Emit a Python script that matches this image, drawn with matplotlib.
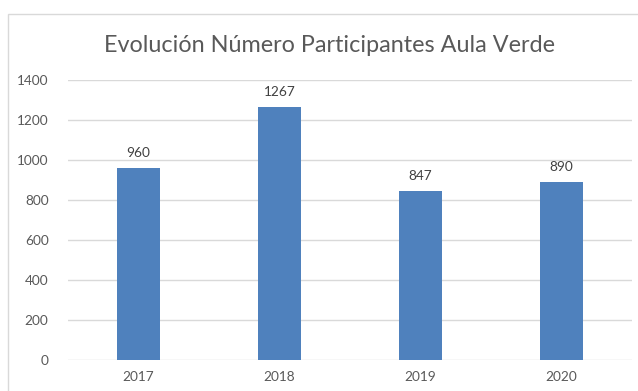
import matplotlib.pyplot as plt
from matplotlib.patches import Rectangle

years = ["2017", "2018", "2019", "2020"]
participants = [960, 1267, 847, 890]
y_ticks = [0, 200, 400, 600, 800, 1000, 1200, 1400]

W, H = 638, 391
fig = plt.figure(figsize=(W / 100, H / 100), dpi=100)
plt.rcParams["font.family"] = ["Lato", "DejaVu Sans"]

# outer chart frame, running off the right and bottom edges
fig.patches.append(Rectangle((8 / W, -0.1), 1.0, 1 - 14 / H + 0.1,
                             transform=fig.transFigure, fill=False,
                             edgecolor="#d9d9d9", linewidth=1.0))

ax = fig.add_axes([68 / W, (H - 360) / H, 564 / W, 280 / H])
x = range(len(years))
bars = ax.bar(x, participants, width=0.31, color="#4f81bd", zorder=3)

for rect, v in zip(bars, participants):
    ax.text(rect.get_x() + rect.get_width() / 2, v + 45, str(v),
            ha="center", va="bottom", fontsize=9.8, color="#404040")

ax.set_xlim(-0.5, len(years) - 0.5)
ax.set_ylim(0, 1400)
ax.set_yticks(y_ticks)
ax.set_xticks(list(x))
ax.set_xticklabels(years)
ax.grid(axis="y", color="#d9d9d9", linewidth=1.0, zorder=0)
for side in ["top", "right", "left", "bottom"]:
    ax.spines[side].set_visible(False)
ax.tick_params(length=0, labelsize=9.8, labelcolor="#595959")
ax.tick_params(axis="y", pad=14)
ax.tick_params(axis="x", pad=8)

fig.text(330 / W, 1 - 45 / H, "Evolución Número Participantes Aula Verde",
         ha="center", va="center", fontsize=16.8, color="#595959")

fig.savefig("out.png", dpi=100, facecolor="white")
